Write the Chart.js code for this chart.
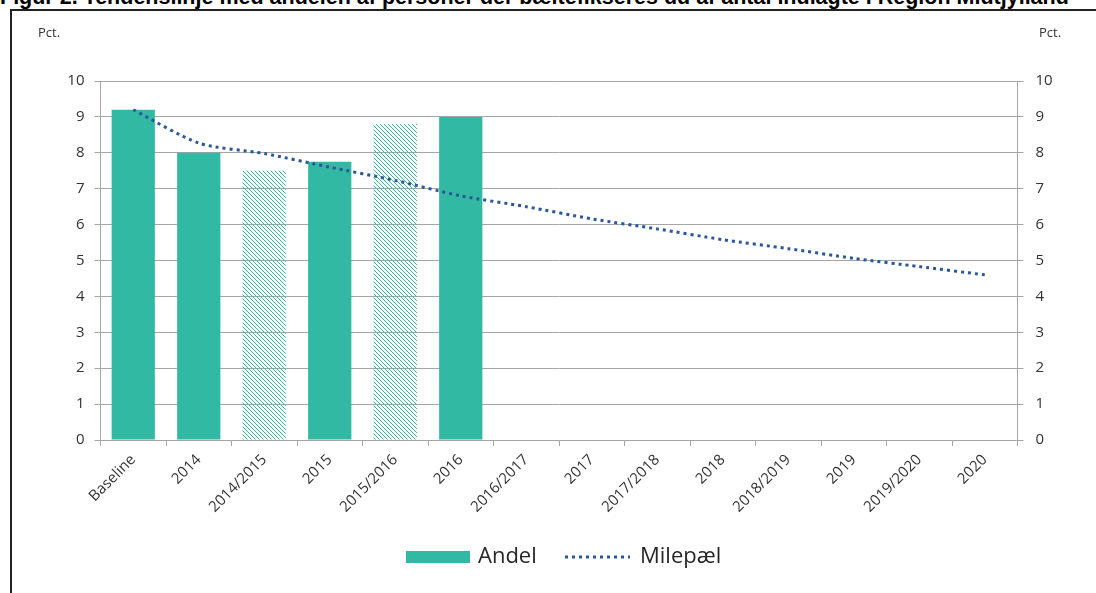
<!DOCTYPE html>
<html>
<head>
<meta charset="utf-8">
<script src="https://cdn.jsdelivr.net/npm/chart.js@4.4.0/dist/chart.umd.min.js"></script>
<style>
  html, body { margin: 0; padding: 0; background: #fff; overflow: hidden; }
  #wrap { position: relative; width: 1096px; height: 593px; }
  #title {
    position: absolute; left: 0; top: -13px; white-space: nowrap;
    font: bold 21.5px "Liberation Sans", Arial, sans-serif; line-height: 21px; color: #000;
  }
  #frame {
    position: absolute; left: 10px; top: 9px; width: 1200px; height: 700px;
    border-left: 2px solid #222; border-top: 2px solid #222;
  }
  canvas { position: absolute; left: 0; top: 0; }
</style>
</head>
<body>
<div id="wrap">
  <div id="title">Figur 2. Tendenslinje med andelen af personer der bæltefikseres ud af antal indlagte i Region Midtjylland</div>
  <div id="frame"></div>
  <canvas id="chart" width="1096" height="593"></canvas>
</div>
<script>
const categories = ['Baseline', '2014', '2014/2015', '2015', '2015/2016', '2016', '2016/2017',
  '2017', '2017/2018', '2018', '2018/2019', '2019', '2019/2020', '2020']
const andel = [9.2, 8.0, 7.5, 7.75, 8.8, 9.0, null, null, null, null, null, null, null, null]
// the "x/y" periods are drawn hatched
const hatched = [false, false, true, false, true, false, false, false, false, false, false, false, false, false]
const milepael = [9.2, 8.27, 7.98, 7.6, 7.23, 6.8, 6.5, 6.16, 5.88, 5.58, 5.33, 5.06, 4.83, 4.6]

const teal = '#31B9A3'
const navy = '#2B5797'
const gridGrey = '#A6A6A6'
const textGrey = '#333333'
const font = '"Open Sans", "Noto Sans", sans-serif'

function hatchPattern() {
  const c = document.createElement('canvas')
  c.width = 4; c.height = 4
  const g = c.getContext('2d')
  g.strokeStyle = teal
  g.lineWidth = 1
  g.beginPath()
  g.moveTo(0, 0); g.lineTo(4, 4)
  g.moveTo(-1, 3); g.lineTo(1, 5)
  g.moveTo(3, -1); g.lineTo(5, 1)
  g.stroke()
  return g.createPattern(c, 'repeat')
}
const hatch = hatchPattern()

// "Pct." over both axes and the legend under the plot
const extras = {
  id: 'extras',
  afterDraw(chart) {
    const ctx = chart.ctx
    ctx.save()
    ctx.font = '13px ' + font
    ctx.fillStyle = textGrey
    ctx.textBaseline = 'middle'
    ctx.fillText('Pct.', 38, 33)
    ctx.fillText('Pct.', 1039, 33)

    const ly = 557
    ctx.fillStyle = teal
    ctx.fillRect(406, ly - 6, 64, 12)
    ctx.strokeStyle = navy
    ctx.lineWidth = 3
    ctx.setLineDash([3, 4])
    ctx.beginPath()
    ctx.moveTo(565, ly); ctx.lineTo(630, ly)
    ctx.stroke()
    ctx.setLineDash([])
    ctx.font = '22px ' + font
    ctx.fillStyle = '#262626'
    ctx.fillText('Andel', 478, ly)
    ctx.fillText('Milepæl', 640, ly)
    ctx.restore()
  }
}

new Chart(document.getElementById('chart'), {
  data: {
    labels: categories,
    datasets: [
      {
        type: 'bar',
        label: 'Andel',
        data: andel,
        backgroundColor: hatched.map(h => h ? hatch : teal),
        borderWidth: 0,
        barPercentage: 0.66,
        categoryPercentage: 1,
        yAxisID: 'y',
        order: 2
      },
      {
        type: 'line',
        label: 'Milepæl',
        data: milepael,
        borderColor: navy,
        borderWidth: 3,
        borderDash: [3, 4],
        pointRadius: 0,
        tension: 0.25,
        fill: false,
        yAxisID: 'y',
        order: 1
      }
    ]
  },
  options: {
    responsive: false,
    animation: false,
    layout: { padding: { top: 81, bottom: 56, left: 0, right: 0 } },
    scales: {
      x: {
        grid: { drawOnChartArea: false, drawTicks: true, tickLength: 6, color: gridGrey, offset: true },
        border: { color: gridGrey },
        ticks: { color: textGrey, font: { family: font, size: 15 }, minRotation: 45, maxRotation: 45, padding: 5, autoSkip: false },
        afterFit: s => { s.height = 97 }
      },
      y: {
        position: 'left',
        min: 0, max: 10,
        ticks: { stepSize: 1, color: textGrey, font: { family: font, size: 15 }, padding: 10 },
        grid: { color: gridGrey, tickLength: 6 },
        border: { color: gridGrey },
        afterFit: s => { s.width = 100.5 }
      },
      y2: {
        position: 'right',
        min: 0, max: 10,
        ticks: { stepSize: 1, color: textGrey, font: { family: font, size: 15 }, padding: 12 },
        grid: { drawOnChartArea: false, color: gridGrey, tickLength: 6 },
        border: { color: gridGrey },
        afterFit: s => { s.width = 78.5 }
      }
    },
    plugins: {
      tooltip: { enabled: false },
      legend: { display: false }
    }
  },
  plugins: [extras]
})
</script>
</body>
</html>
